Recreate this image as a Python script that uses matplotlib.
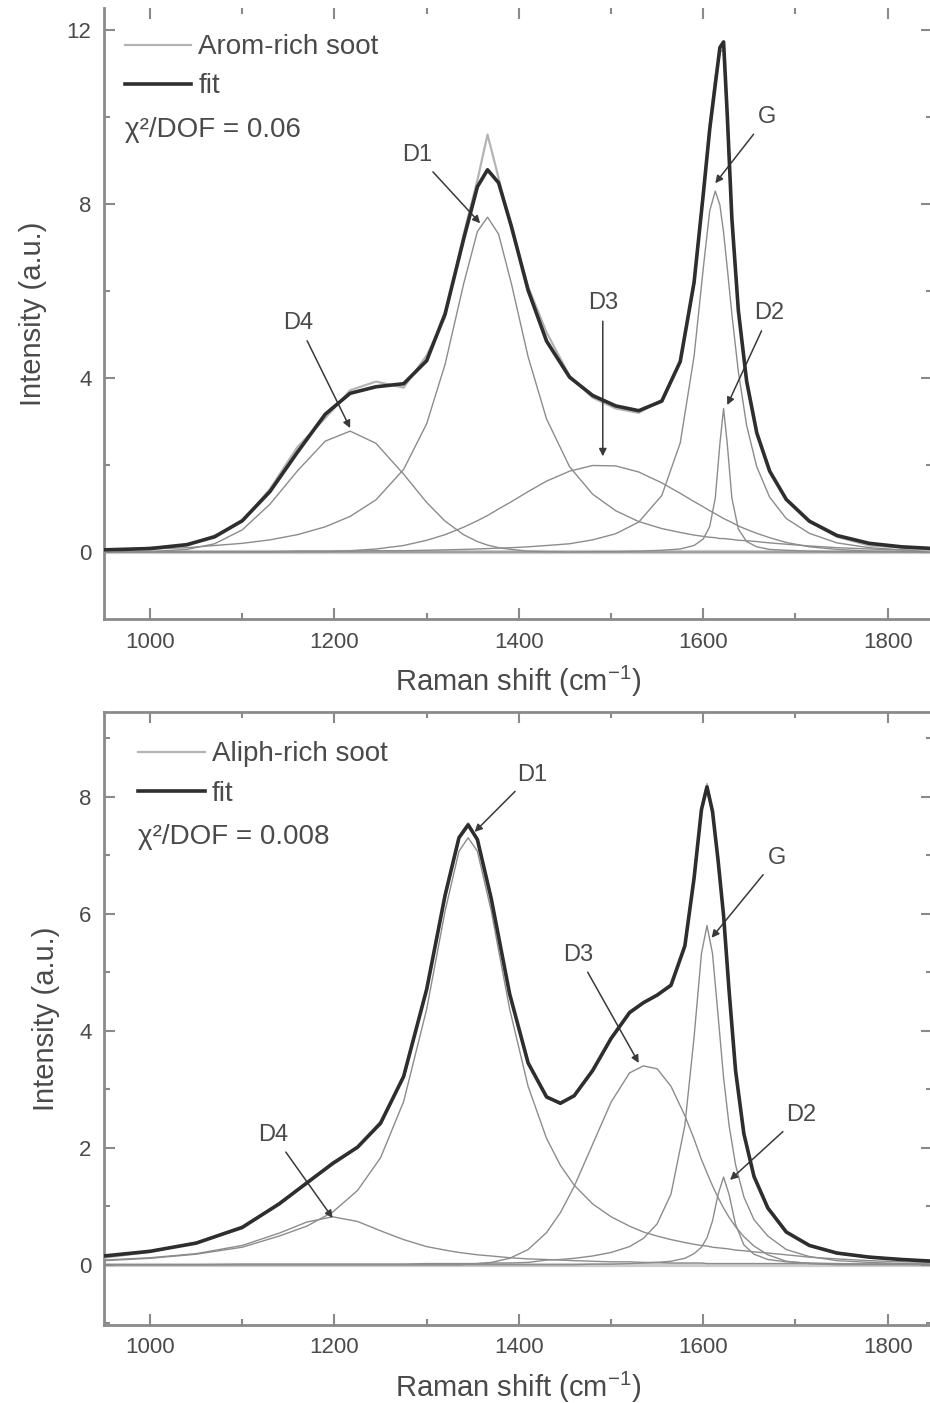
import numpy as np
import matplotlib.pyplot as plt
from matplotlib.ticker import MultipleLocator

plt.rcParams['font.family'] = ['Liberation Sans', 'DejaVu Sans']
plt.rcParams['mathtext.fontset'] = 'custom'
plt.rcParams['mathtext.rm'] = 'Liberation Sans'
plt.rcParams['mathtext.it'] = 'Liberation Sans:italic'

# ---- top panel: Arom-rich soot ----
x_top = [950, 1000, 1040, 1070, 1100, 1130, 1160, 1190, 1217, 1245, 1275, 1300, 1320, 1340, 1355,
         1366, 1378, 1392, 1410, 1430, 1455, 1480, 1505, 1530, 1555, 1575, 1590, 1600, 1607, 1613,
         1618, 1622, 1626, 1631, 1638, 1647, 1658, 1672, 1690, 1715, 1745, 1780, 1815, 1850]
d4_top = [0.0, 0.01, 0.06, 0.19, 0.51, 1.10, 1.87, 2.55, 2.78, 2.50, 1.79, 1.14, 0.71, 0.40, 0.24,
          0.16, 0.10, 0.06, 0.02, 0.01, 0, 0, 0, 0, 0, 0, 0, 0, 0, 0,
          0, 0, 0, 0, 0, 0, 0, 0, 0, 0, 0, 0, 0, 0]
d1_top = [0.05, 0.07, 0.10, 0.15, 0.20, 0.28, 0.40, 0.58, 0.82, 1.20, 1.90, 2.95, 4.32, 6.16, 7.37,
          7.70, 7.31, 6.16, 4.49, 3.06, 1.96, 1.33, 0.95, 0.70, 0.54, 0.45, 0.39, 0.36, 0.34, 0.33,
          0.31, 0.31, 0.30, 0.29, 0.27, 0.26, 0.24, 0.21, 0.18, 0.14, 0.10, 0.07, 0.05, 0.04]
d3_top = [0, 0, 0, 0, 0, 0, 0.01, 0.01, 0.03, 0.07, 0.15, 0.27, 0.40, 0.57, 0.72,
          0.84, 0.99, 1.16, 1.39, 1.63, 1.86, 1.99, 1.98, 1.84, 1.59, 1.35, 1.16, 1.04, 0.95, 0.88,
          0.82, 0.77, 0.73, 0.68, 0.60, 0.52, 0.43, 0.33, 0.22, 0.12, 0.06, 0.02, 0.01, 0.0]
g_top = [0, 0, 0.01, 0.01, 0.01, 0.01, 0.02, 0.02, 0.02, 0.03, 0.03, 0.04, 0.05, 0.06, 0.07,
         0.08, 0.09, 0.10, 0.12, 0.15, 0.19, 0.28, 0.42, 0.69, 1.30, 2.51, 4.50, 6.53, 7.85, 8.30,
         7.98, 7.35, 6.53, 5.47, 4.15, 2.91, 1.96, 1.26, 0.77, 0.43, 0.21, 0.10, 0.05, 0.03]
d2_top = [0, 0, 0, 0, 0, 0, 0, 0, 0, 0, 0, 0, 0, 0, 0,
          0, 0, 0, 0, 0, 0, 0.01, 0.01, 0.02, 0.04, 0.07, 0.15, 0.30, 0.59, 1.24,
          2.49, 3.30, 2.49, 1.24, 0.53, 0.24, 0.12, 0.06, 0.04, 0.02, 0.01, 0.01, 0.01, 0.0]
fit_top = [0.05, 0.08, 0.17, 0.35, 0.72, 1.39, 2.30, 3.17, 3.65, 3.80, 3.87, 4.40, 5.48, 7.19, 8.40,
           8.79, 8.49, 7.48, 6.02, 4.85, 4.02, 3.60, 3.36, 3.25, 3.47, 4.38, 6.20, 8.23, 9.73, 10.75,
           11.60, 11.73, 10.05, 7.67, 5.56, 3.93, 2.74, 1.86, 1.21, 0.71, 0.38, 0.20, 0.12, 0.08]
data_top = [0.02, 0.10, 0.15, 0.38, 0.70, 1.45, 2.42, 3.08, 3.72, 3.92, 3.78, 4.52, 5.40, 7.30, 8.55,
            9.60, 8.60, 7.40, 6.10, 5.05, 4.05, 3.55, 3.30, 3.20, 3.50, 4.40, 6.15, 8.30, 9.80, 10.90,
            11.50, 11.55, 10.00, 7.60, 5.60, 3.90, 2.75, 1.85, 1.20, 0.70, 0.35, 0.15, 0.10, 0.03]

# ---- bottom panel: Aliph-rich soot ----
x_bot = [950, 1000, 1050, 1100, 1140, 1170, 1198, 1225, 1250, 1275, 1300, 1320, 1335, 1345, 1355,
         1370, 1390, 1410, 1430, 1445, 1460, 1480, 1500, 1520, 1535, 1550, 1565, 1580, 1590, 1598,
         1604, 1610, 1616, 1622, 1628, 1635, 1644, 1655, 1670, 1690, 1715, 1745, 1780, 1815, 1850]
d4_bot = [0.08, 0.12, 0.19, 0.33, 0.54, 0.73, 0.82, 0.74, 0.58, 0.43, 0.31, 0.25, 0.21, 0.19, 0.17,
          0.15, 0.12, 0.10, 0.09, 0.08, 0.07, 0.06, 0.05, 0.05, 0.04, 0.04, 0.03, 0.03, 0.03, 0.03,
          0.02, 0.02, 0.02, 0.02, 0.02, 0.02, 0.02, 0.02, 0.02, 0.02, 0.02, 0.01, 0.01, 0.01, 0.01]
d1_bot = [0.07, 0.11, 0.18, 0.30, 0.49, 0.66, 0.90, 1.27, 1.83, 2.79, 4.37, 6.05, 7.07, 7.30, 7.07,
          6.05, 4.37, 3.05, 2.16, 1.70, 1.36, 1.04, 0.82, 0.66, 0.56, 0.49, 0.43, 0.38, 0.35, 0.33,
          0.32, 0.30, 0.29, 0.28, 0.27, 0.25, 0.24, 0.22, 0.20, 0.17, 0.13, 0.10, 0.07, 0.05, 0.04]
d3_bot = [0, 0, 0, 0, 0, 0, 0, 0, 0, 0, 0, 0, 0, 0.01, 0.02,
          0.04, 0.11, 0.26, 0.55, 0.89, 1.34, 2.06, 2.78, 3.28, 3.40, 3.35, 3.05, 2.55, 2.15, 1.80,
          1.57, 1.35, 1.15, 0.97, 0.81, 0.65, 0.48, 0.32, 0.17, 0.06, 0.02, 0, 0, 0, 0]
g_bot = [0, 0, 0, 0.01, 0.01, 0.01, 0.01, 0.01, 0.01, 0.01, 0.02, 0.02, 0.02, 0.02, 0.02,
         0.03, 0.03, 0.04, 0.08, 0.09, 0.11, 0.15, 0.21, 0.31, 0.45, 0.70, 1.21, 2.38, 3.89, 5.32,
         5.80, 5.32, 4.27, 3.20, 2.38, 1.71, 1.16, 0.77, 0.49, 0.26, 0.14, 0.07, 0.04, 0.02, 0.01]
d2_bot = [0, 0, 0, 0, 0, 0, 0, 0, 0, 0, 0, 0, 0, 0, 0,
          0, 0, 0, 0, 0, 0, 0.01, 0.01, 0.02, 0.03, 0.04, 0.06, 0.11, 0.19, 0.30,
          0.46, 0.75, 1.20, 1.50, 1.20, 0.69, 0.34, 0.18, 0.09, 0.05, 0.03, 0.02, 0.01, 0.01, 0.0]
fit_bot = [0.15, 0.23, 0.37, 0.64, 1.04, 1.40, 1.73, 2.01, 2.42, 3.22, 4.71, 6.32, 7.30, 7.52, 7.27,
           6.26, 4.63, 3.45, 2.87, 2.76, 2.89, 3.32, 3.87, 4.31, 4.48, 4.61, 4.78, 5.45, 6.61, 7.78,
           8.17, 7.75, 6.92, 5.97, 4.68, 3.32, 2.24, 1.51, 0.97, 0.56, 0.33, 0.20, 0.13, 0.09, 0.06]
data_bot = [0.12, 0.22, 0.38, 0.62, 1.06, 1.38, 1.75, 2.00, 2.45, 3.20, 4.72, 6.30, 7.32, 7.55, 7.25,
            6.28, 4.60, 3.47, 2.85, 2.78, 2.88, 3.34, 3.85, 4.33, 4.47, 4.62, 4.76, 5.47, 6.60, 7.80,
            8.22, 7.72, 6.95, 5.95, 4.70, 3.30, 2.26, 1.50, 0.98, 0.55, 0.34, 0.19, 0.14, 0.08, 0.07]

txt = '#4a4a4a'
spine_c = '#8a8a8a'

fig = plt.figure(figsize=(9.3, 14.03), dpi=100)
ax1 = fig.add_axes([0.1118, 0.5588, 0.8903, 0.4355])
ax2 = fig.add_axes([0.1118, 0.0556, 0.8903, 0.4369])

panels = [
    (ax1, x_top, [d4_top, d1_top, d3_top, g_top, d2_top], data_top, fit_top,
     'Arom-rich soot', 'χ²/DOF = 0.06', (-1.54, 12.51), 4, 2,
     [('D4', 1217, 2.85, 1161, 5.26), ('D1', 1358, 7.56, 1290, 9.13),
      ('D3', 1491, 2.2, 1491, 5.72), ('D2', 1626, 3.38, 1672, 5.49),
      ('G', 1613, 8.48, 1669, 10.0)],
     (0.025, 0.957), (0.025, 0.801)),
    (ax2, x_bot, [d4_bot, d1_bot, d3_bot, g_bot, d2_bot], data_bot, fit_bot,
     'Aliph-rich soot', 'χ²/DOF = 0.008', (-1.03, 9.45), 2, 1,
     [('D4', 1198, 0.80, 1134, 2.22), ('D1', 1352, 7.40, 1414, 8.38),
      ('D3', 1530, 3.45, 1464, 5.3), ('D2', 1629, 1.45, 1706, 2.56),
      ('G', 1609, 5.59, 1680, 6.96)],
     (0.041, 0.952), (0.041, 0.796)),
]

for ax, xs, comps, data, fit, name, chi, ylim, ymaj, ymin, notes, legpos, chipos in panels:
    ax.axhline(0, color='#cccccc', lw=3, zorder=1)
    for c in comps:
        ax.plot(xs, c, color='#8c8c8c', lw=1.0, zorder=2, solid_joinstyle='round')
    hd, = ax.plot(xs, data, color='#b4b4b4', lw=1.6, zorder=3, label=name,
                  solid_joinstyle='round')
    hf, = ax.plot(xs, fit, color='#2e2e2e', lw=2.6, zorder=4, label='fit',
                  solid_joinstyle='round')

    ax.set_xlim(950, 1848)
    ax.set_ylim(*ylim)
    ax.xaxis.set_major_locator(MultipleLocator(200))
    ax.xaxis.set_minor_locator(MultipleLocator(100))
    ax.yaxis.set_major_locator(MultipleLocator(ymaj))
    ax.yaxis.set_minor_locator(MultipleLocator(ymin))
    ax.tick_params(which='both', direction='in', top=True, right=True, colors=spine_c,
                   labelcolor=txt, labelsize=16, width=1.5)
    ax.tick_params(which='major', length=8, pad=9)
    ax.tick_params(which='minor', length=4)
    for s in ax.spines.values():
        s.set_color(spine_c)
        s.set_linewidth(2)

    ax.set_xlabel('Raman shift (cm$^{-1}$)', fontsize=21, color=txt, labelpad=8)
    ax.set_ylabel('Intensity (a.u.)', fontsize=21, color=txt, labelpad=14)

    leg = ax.legend(handles=[hd, hf], loc='upper left', bbox_to_anchor=legpos, frameon=False,
                    fontsize=20, handlelength=2.4, handletextpad=0.25, labelspacing=0.47,
                    borderpad=0, borderaxespad=0)
    for t in leg.get_texts():
        t.set_color(txt)
    ax.text(chipos[0], chipos[1], chi, transform=ax.transAxes, fontsize=20, color=txt,
            ha='left', va='center')

    for lab, tx, ty, lx, ly in notes:
        ax.annotate(lab, xy=(tx, ty), xytext=(lx, ly), ha='center', va='center',
                    fontsize=17, color=txt,
                    arrowprops=dict(arrowstyle='-|>', color='#3a3a3a', lw=1.1,
                                    mutation_scale=11, shrinkA=3, shrinkB=0))

ax1.spines['top'].set_visible(False)

fig.savefig('out.png', dpi=100)
